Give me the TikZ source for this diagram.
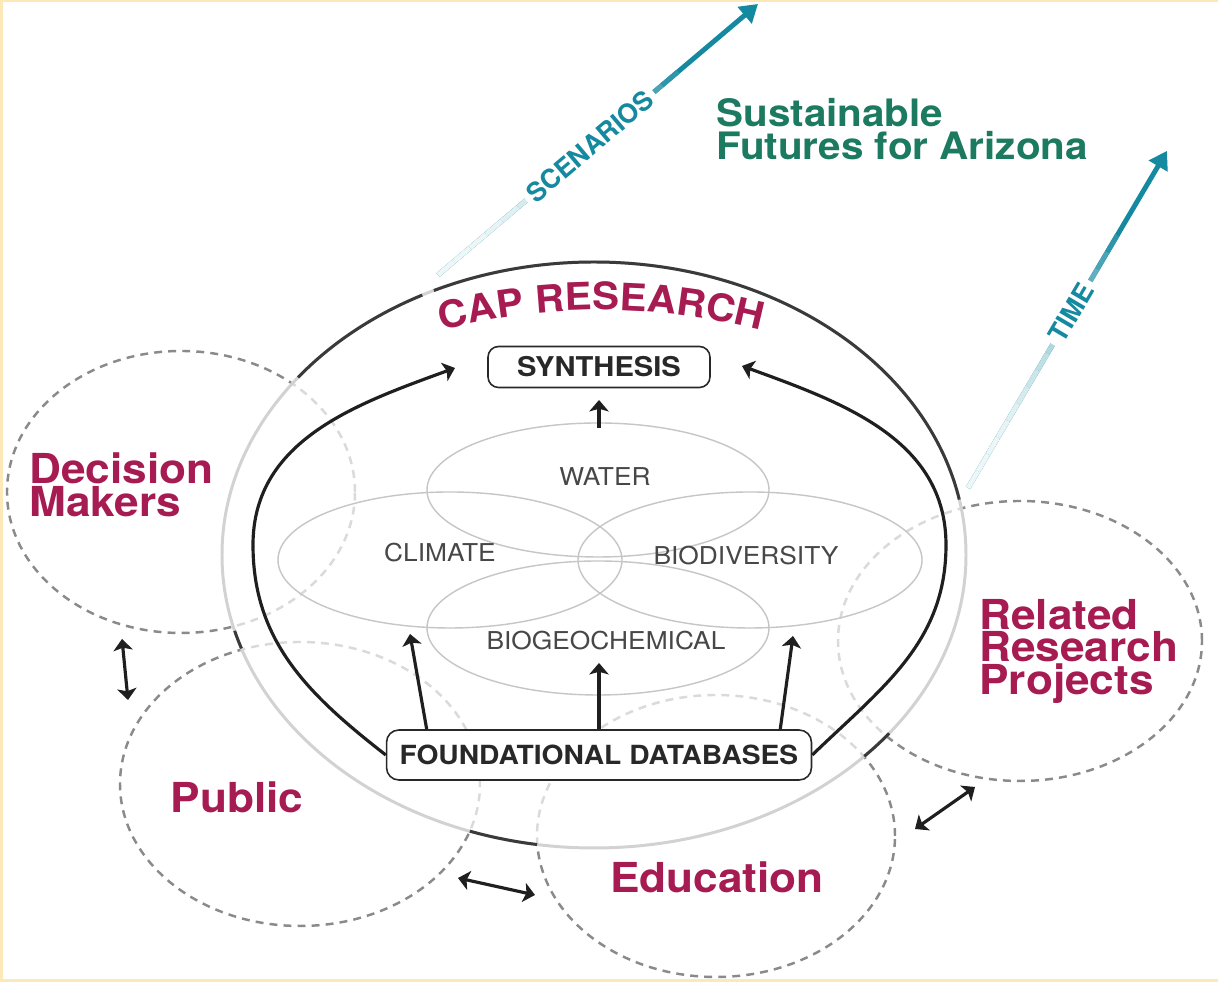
\documentclass[tikz,border=0pt]{standalone}
\usepackage{fontspec}
\setmainfont{TeX Gyre Heros}
\newfontfamily\widesans[FakeStretch=1.07]{TeX Gyre Heros}
\usetikzlibrary{calc}
\usetikzlibrary{arrows.meta}
\usetikzlibrary{decorations.text}

\definecolor{capred}{RGB}{166,27,82}
\definecolor{futgreen}{RGB}{28,122,96}
\definecolor{arrowteal}{RGB}{20,137,160}
\definecolor{framey}{RGB}{253,233,184}
\definecolor{ringgray}{RGB}{210,210,210}
\definecolor{ringdark}{RGB}{58,58,58}
\definecolor{dashgray}{RGB}{138,138,138}
\definecolor{dashlight}{RGB}{218,218,218}
\definecolor{topicgray}{RGB}{198,198,198}
\definecolor{boxtext}{RGB}{40,40,40}

\newcommand\capfont{\widesans\bfseries\fontsize{21.5}{22}\selectfont}
\newcommand\partners{181/490/174/141, 300/198/180/142, 716/146/179/141, 1020/341/182/140}

\begin{document}
\begin{tikzpicture}[x=0.02cm, y=0.02cm,
  partner/.style={dashgray, line width=1.4pt, dash pattern=on 4.5pt off 3.5pt},
  partnerin/.style={partner, dashlight},
  partnerlabel/.style={text=capred, font=\widesans\bfseries\fontsize{23.5}{18.5}\selectfont, align=left, inner sep=0pt},
  topic/.style={topicgray, line width=0.8pt},
  topiclabel/.style={text=black!72, font=\widesans\fontsize{14}{16}\selectfont},
  stage/.style={draw=boxtext, line width=0.9pt, rounded corners=6pt, fill=white, text=boxtext, font=\widesans\bfseries\fontsize{15.5}{17}\selectfont},
  feed/.style={black!88, line width=1.8pt, -{Stealth[length=6.5pt, width=11pt, inset=1.5pt]}},
  link/.style={black!88, line width=1.8pt, {Stealth[length=6.5pt, width=11pt, inset=1.5pt]}-{Stealth[length=6.5pt, width=11pt, inset=1.5pt]}},
  axis/.style={arrowteal, line width=2.8pt, -{Triangle[length=10pt, width=12pt]}},
  axislabel/.style={text=arrowteal, fill=white, inner sep=3pt, sloped, font=\bfseries\fontsize{15}{15}\selectfont}
]

\useasboundingbox (0,0) rectangle (1218,982);
\fill[framey] (0,0) rectangle (1218,982);
\fill[white] (3,3) rectangle (1218,980);

% partner rings, lighter where they run inside CAP
\begin{scope}[even odd rule]
  \clip (0,0) rectangle (1218,982) (594,427) ellipse [x radius=372, y radius=293];
  \foreach \cx/\cy/\rx/\ry in \partners
    \draw[partner] (\cx,\cy) ellipse [x radius=\rx, y radius=\ry];
\end{scope}
\begin{scope}
  \clip (594,427) ellipse [x radius=372, y radius=293];
  \foreach \cx/\cy/\rx/\ry in \partners
    \draw[partnerin] (\cx,\cy) ellipse [x radius=\rx, y radius=\ry];
\end{scope}

% CAP ring
\draw[ringgray, line width=1.7pt] (594,427) ellipse [x radius=372, y radius=293];
\foreach \a/\b in {10.9/115.5, 117.5/142.7, 195/198.6, 250.5/261.2, 316.6/322.5}
  \draw[ringdark, line width=1.7pt] (594,427) ++(\a:372 and 293) arc [start angle=\a, end angle=\b, x radius=372, y radius=293];

\path[decorate, decoration={text along path, text align=center, text color=capred, text={|\capfont|CAP RESEARCH}}]
  (601,32) ++(120:640) arc [start angle=120, end angle=60, radius=640];

% research topics
\draw[topic] (598,492) ellipse [x radius=171, y radius=67];
\draw[topic] (450,422) ellipse [x radius=172, y radius=68];
\draw[topic] (750,422) ellipse [x radius=172, y radius=68];
\draw[topic] (598,354) ellipse [x radius=171, y radius=67];
\node[topiclabel] (water) at (605,505) {WATER};
\node[topiclabel] (climate) at (440,429) {CLIMATE};
\node[topiclabel] (biodiv) at (746,426) {BIODIVERSITY};
\node[topiclabel] (biogeo) at (606,341) {BIOGEOCHEMICAL};

\node[stage, minimum width=4.44cm, minimum height=0.82cm] (syn) at (599,615) {SYNTHESIS};
\node[stage, rounded corners=7pt, font=\widesans\bfseries\fontsize{15}{17}\selectfont, minimum width=8.5cm, minimum height=1cm] (fdb) at (599,227) {FOUNDATIONAL DATABASES};

\coordinate (climtip) at (410,348);
\coordinate (geotip) at (599,319);
\coordinate (biotip) at (793,346);
\coordinate (waterbase) at (599,554);
\coordinate (syntip) at (599,582);
\coordinate (lefttip) at (455,614);
\coordinate (righttip) at (742,616);

\draw[feed] ($(fdb.north west)!0.096!(fdb.north east)$) -- (climtip);
\draw[feed] (fdb.north) -- (geotip);
\draw[feed] ($(fdb.north west)!0.925!(fdb.north east)$) -- (biotip);
\draw[feed] (waterbase) -- (syntip);
\draw[feed] (fdb.west) to[out=142, in=-90] (253,437) to[out=90, in=200] (lefttip);
\draw[feed] (fdb.east) to[out=44, in=-90] (946,437) to[out=90, in=-20] (righttip);

% scenarios and time
\coordinate (scenfrom) at (438,707);
\coordinate (scento) at (758,978);
\coordinate (timefrom) at (968,494);
\coordinate (timeto) at (1167,831);
\draw[axis] (scenfrom) -- (scento);
\draw[axis] (timefrom) -- (timeto);
\foreach \i [evaluate=\i as \p using int(7+0.42*\i*\i)] in {0,...,14} {
  \draw[arrowteal!\p, line width=2.8pt] ($(scenfrom)!\i/20!(scento)$) -- ($(scenfrom)!\i/20+0.05!(scento)$);
  \draw[arrowteal!\p, line width=2.8pt] ($(timefrom)!\i/20!(timeto)$) -- ($(timefrom)!\i/20+0.05!(timeto)$);
}
\path (scenfrom) -- (scento) node[axislabel, pos=0.475] (scen) {SCENARIOS};
\path (timefrom) -- (timeto) node[axislabel, pos=0.52] (time) {TIME};

\node[anchor=west, text=futgreen, font=\widesans\bfseries\fontsize{21.5}{19}\selectfont, align=left, inner sep=0pt] (futures) at (716,853) {Sustainable\\Futures for Arizona};

% partners
\node[partnerlabel, anchor=west] (dm) at (29,497) {Decision\\Makers};
\node[partnerlabel] (pub) at (237,185) {Public};
\node[partnerlabel] (edu) at (717,105) {Education};
\node[partnerlabel, anchor=west] (rrp) at (979,331) {Related\\Research\\Projects};

\coordinate (dmtop) at (122,343);
\coordinate (pubtop) at (128,282);
\coordinate (pubright) at (458,104);
\coordinate (eduleft) at (535,87);
\coordinate (eduright) at (915,153);
\coordinate (rrpbottom) at (975,195);
\draw[link] (dmtop) -- (pubtop);
\draw[link] (pubright) -- (eduleft);
\draw[link] (eduright) -- (rrpbottom);

\end{tikzpicture}
\end{document}
